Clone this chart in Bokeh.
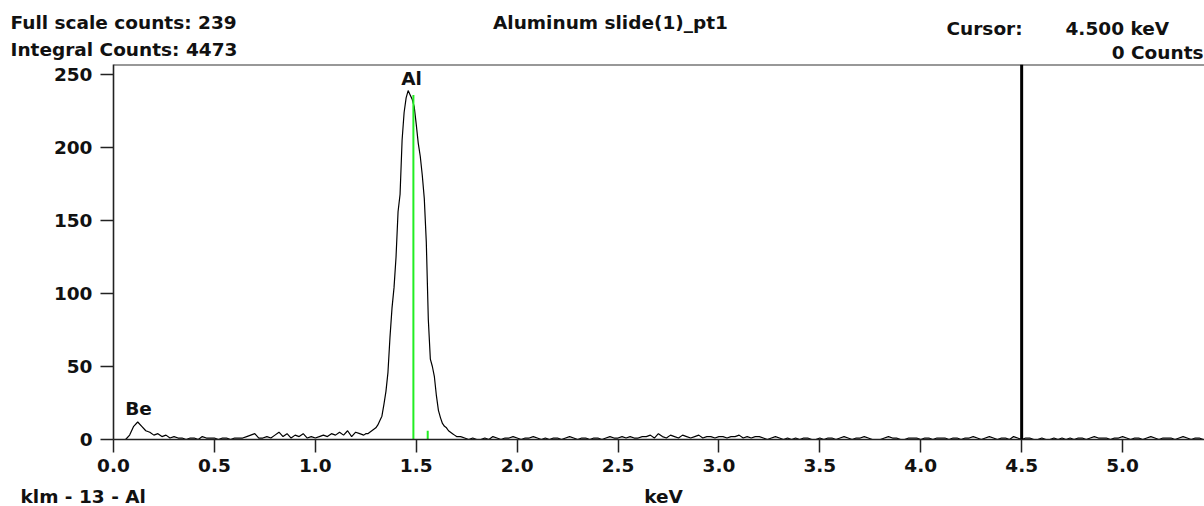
from bokeh.plotting import figure
from bokeh.layouts import column
from bokeh.models import Range1d, FixedTicker, Label, Span, ColumnDataSource
from bokeh.core.properties import value
from bokeh.embed import file_html
from bokeh.resources import INLINE

# ---------------- data ----------------
# spectrum counts on channel grids (keV start, keV step, counts)
low_start, low_step = 0.00, 0.02
low_counts = [0, 0, 0, 0, 3, 9, 12, 9, 6, 5,
              3, 4, 2, 3, 1, 2, 1, 1, 0, 1,
              1, 0, 2, 1, 1, 1, 0, 1, 1, 0,
              1, 1, 1, 2, 3, 4, 1, 1, 2, 1,
              3, 5, 2, 4, 1, 3, 2, 4, 1, 2,
              1, 2, 3, 2, 4, 3, 5, 3, 6, 2,
              5, 4, 3]
peak_start, peak_step = 1.25, 0.01
peak_counts = [4, 4, 5, 6, 7, 8, 10, 13, 16, 24,
               33, 46, 70, 90, 104, 125, 156, 168, 205, 224,
               234, 239, 236, 233, 228, 216, 203, 194, 181, 165,
               135, 82, 55, 50, 43, 30, 20, 15, 11, 9,
               8, 6, 5, 4, 3, 2]
high_start, high_step = 1.72, 0.02
high_counts = [2, 1, 0, 1, 0, 0, 1, 0, 2, 1,
               0, 1, 1, 2, 1, 0, 1, 1, 2, 1,
               0, 1, 0, 1, 1, 0, 1, 2, 1, 0,
               1, 1, 0, 1, 1, 0, 1, 2, 1, 1,
               2, 1, 2, 1, 1, 2, 2, 3, 1, 4,
               2, 1, 3, 2, 1, 3, 2, 1, 2, 3,
               1, 2, 2, 1, 2, 2, 1, 2, 2, 3,
               1, 2, 1, 2, 2, 1, 0, 1, 2, 1,
               0, 1, 0, 1, 0, 1, 1, 0, 0, 1,
               0, 1, 1, 0, 1, 2, 1, 0, 1, 1,
               2, 1, 0, 0, 0, 1, 2, 1, 1, 0,
               0, 1, 1, 1, 0, 1, 1, 0, 1, 1,
               1, 0, 1, 1, 0, 1, 1, 2, 1, 0,
               1, 2, 1, 0, 1, 1, 0, 2, 1, 0,
               1, 1, 0, 0, 1, 0, 0, 1, 0, 1,
               0, 1, 0, 1, 1, 0, 1, 2, 1, 1,
               1, 0, 1, 1, 2, 1, 0, 1, 1, 0,
               1, 2, 1, 0, 1, 1, 1, 0, 1, 2,
               1, 0, 1, 1, 0]

x_ticks = [0.0, 0.5, 1.0, 1.5, 2.0, 2.5, 3.0, 3.5, 4.0, 4.5, 5.0]
x_tick_labels = ["0.0", "0.5", "1.0", "1.5", "2.0", "2.5", "3.0", "3.5", "4.0", "4.5", "5.0"]
y_ticks = [0, 50, 100, 150, 200, 250]

kline_kev = [1.486, 1.557]       # Al Ka, Al Kb markers
kline_height = [236, 6]
cursor_kev = 4.5
cursor_counts = 0

element_names = ["Be", "Al"]
element_kev = [0.124, 1.477]
element_label_counts = [21, 247]

spectrum_title = "Aluminum slide(1)_pt1"
full_scale_counts = 239
integral_counts = 4473
klm_text = "klm - 13 - Al"
x_axis_title = "keV"

x_max = 5.406
y_max = 256.85

# ---------------- build ----------------
def grid(start, step, n):
    return [round(start + step * i, 4) for i in range(n)]

energy = grid(low_start, low_step, len(low_counts)) + \
         grid(peak_start, peak_step, len(peak_counts)) + \
         grid(high_start, high_step, len(high_counts))
counts = low_counts + peak_counts + high_counts
src = ColumnDataSource(dict(x=energy, y=counts))

FONT = "DejaVu Sans"
FS = "18.5px"
TXT = "#111111"
W = 1204


def text_panel(height, items):
    """A bare strip (no axes) whose frame covers the canvas, for page texts."""
    f = figure(width=W, height=height, output_backend="svg", toolbar_location=None,
               x_range=Range1d(0, W), y_range=Range1d(height, 0),
               x_axis_type=None, y_axis_type=None, min_border=0, title=None,
               frame_align=False)
    f.outline_line_color = None
    f.xgrid.visible = False
    f.ygrid.visible = False
    for txt, x, y, align in items:
        f.text(x=[x], y=[y], text=[txt], text_font=value(FONT), text_font_size=FS,
               text_font_style="bold", text_color=TXT, text_align=align,
               text_baseline="middle")
    return f


header = text_panel(64, [
    (f"Full scale counts: {full_scale_counts}", 10, 22, "left"),
    (f"Integral Counts: {integral_counts}", 10, 49, "left"),
    (spectrum_title, 610, 22, "center"),
    ("Cursor:", 946, 28, "left"),
    (f"{cursor_kev:.3f} keV", 1065, 28, "left"),
    (f"{cursor_counts} Counts", 1203, 52, "right"),
])

p = figure(width=W, height=420, output_backend="svg", toolbar_location=None,
           x_range=Range1d(0, x_max), y_range=Range1d(0, y_max),
           min_border_left=113, min_border_right=0, min_border_top=0,
           min_border_bottom=45, title=None, frame_align=False)
p.background_fill_color = "white"
p.border_fill_color = "white"
p.outline_line_color = None
p.xgrid.visible = False
p.ygrid.visible = False

for ax in (p.xaxis[0], p.yaxis[0]):
    ax.axis_line_color = "#222222"
    ax.axis_line_width = 1.6
    ax.major_tick_line_color = "#222222"
    ax.major_tick_line_width = 1.5
    ax.major_tick_in = 0
    ax.major_tick_out = 13
    ax.minor_tick_line_color = None
    ax.major_label_text_font = FONT
    ax.major_label_text_font_size = FS
    ax.major_label_text_font_style = "bold"
    ax.major_label_text_color = TXT

p.xaxis.ticker = FixedTicker(ticks=x_ticks)
p.xaxis.major_label_overrides = {t: l for t, l in zip(x_ticks, x_tick_labels)}
p.xaxis.major_label_standoff = 6
p.yaxis.ticker = FixedTicker(ticks=y_ticks)
p.yaxis.major_label_standoff = 8

# top frame border
p.add_layout(Span(location=y_max, dimension="width", line_color="#333333", line_width=2))

p.line("x", "y", source=src, line_color="black", line_width=1.2)
p.segment(x0=kline_kev, y0=[0] * len(kline_kev), x1=kline_kev, y1=kline_height,
          line_color="#22ee22", line_width=2)
p.add_layout(Span(location=cursor_kev, dimension="height", line_color="black", line_width=3))

for name, ex, ey in zip(element_names, element_kev, element_label_counts):
    p.add_layout(Label(x=ex, y=ey, text=name, text_font=FONT, text_font_size=FS,
                       text_font_style="bold", text_color=TXT, text_align="center",
                       text_baseline="middle"))

footer = text_panel(22, [
    (klm_text, 20, 12, "left"),
    (x_axis_title, 663, 12, "center"),
])

layout = column(header, p, footer, spacing=0)
open("out.html", "w").write(file_html(layout, INLINE))
